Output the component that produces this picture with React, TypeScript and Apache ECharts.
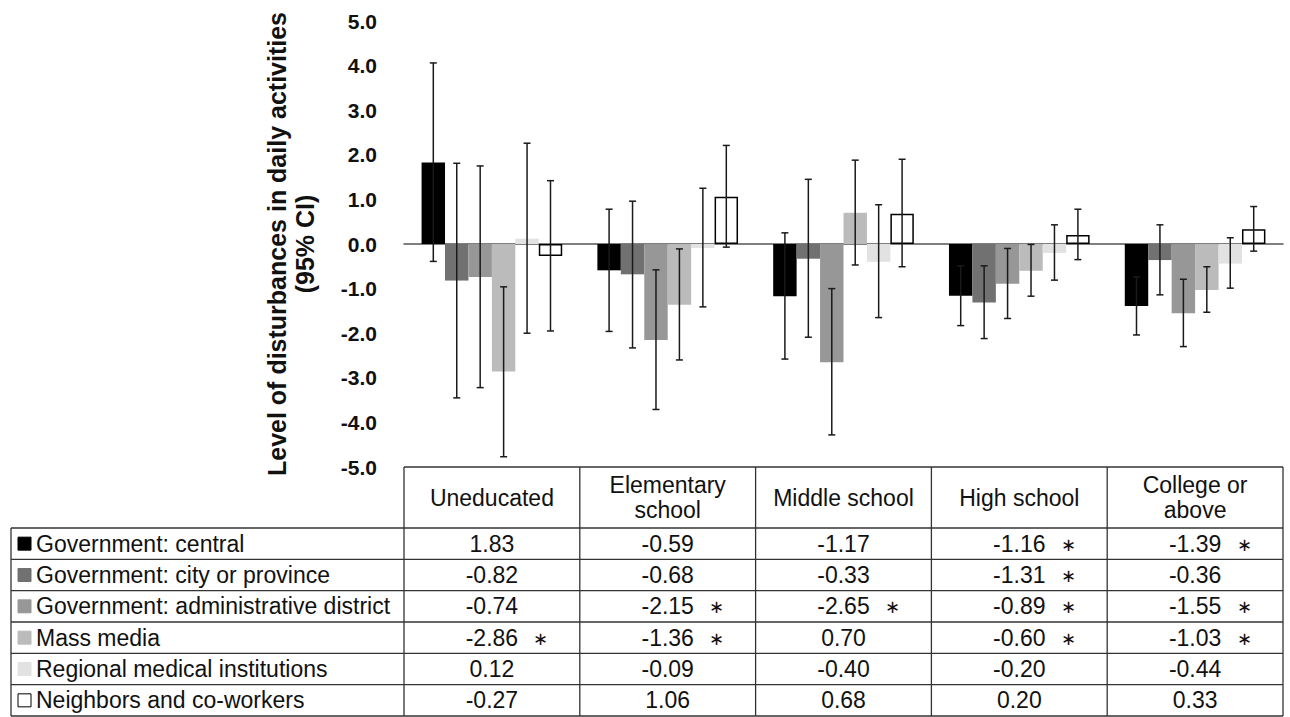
import React, { useEffect, useRef } from "react";
import * as echarts from "echarts";

const categories = ["Uneducated", "Elementary school", "Middle school", "High school", "College or above"];
const headerLabels = ["Uneducated", "Elementary\nschool", "Middle school", "High school", "College or\nabove"];
const yTicks = [-5, -4, -3, -2, -1, 0, 1, 2, 3, 4, 5];

const sources = [
  "Government: central",
  "Government: city or province",
  "Government: administrative district",
  "Mass media",
  "Regional medical institutions",
  "Neighbors and co-workers",
];

const centralMeans = [1.83, -0.59, -1.17, -1.16, -1.39];
const cityMeans = [-0.82, -0.68, -0.33, -1.31, -0.36];
const districtMeans = [-0.74, -2.15, -2.65, -0.89, -1.55];
const mediaMeans = [-2.86, -1.36, 0.7, -0.6, -1.03];
const medicalMeans = [0.12, -0.09, -0.4, -0.2, -0.44];
const neighborMeans = [-0.27, 1.06, 0.68, 0.2, 0.33];

const centralLow = [-0.39, -1.96, -2.58, -1.83, -2.04];
const centralHigh = [4.06, 0.78, 0.25, -0.49, -0.74];
const cityLow = [-3.45, -2.33, -2.09, -2.12, -1.14];
const cityHigh = [1.81, 0.96, 1.45, -0.49, 0.43];
const districtLow = [-3.22, -3.71, -4.28, -1.67, -2.3];
const districtHigh = [1.75, -0.58, -1.0, -0.1, -0.79];
const mediaLow = [-4.77, -2.6, -0.47, -1.17, -1.53];
const mediaHigh = [-0.96, -0.11, 1.88, -0.01, -0.51];
const medicalLow = [-2.0, -1.41, -1.65, -0.81, -0.99];
const medicalHigh = [2.26, 1.25, 0.88, 0.43, 0.14];
const neighborLow = [-1.95, -0.07, -0.51, -0.35, -0.16];
const neighborHigh = [1.42, 2.21, 1.9, 0.78, 0.84];

const centralSig = [false, false, false, true, true];
const citySig = [false, false, false, true, false];
const districtSig = [false, true, true, true, true];
const mediaSig = [true, true, false, true, true];
const medicalSig = [false, false, false, false, false];
const neighborSig = [false, false, false, false, false];

const colors = ["#000000", "#717171", "#979797", "#bbbbbb", "#e2e2e2", "#ffffff"];

const meansList = [centralMeans, cityMeans, districtMeans, mediaMeans, medicalMeans, neighborMeans];
const lowList = [centralLow, cityLow, districtLow, mediaLow, medicalLow, neighborLow];
const highList = [centralHigh, cityHigh, districtHigh, mediaHigh, medicalHigh, neighborHigh];
const sigList = [centralSig, citySig, districtSig, mediaSig, medicalSig, neighborSig];

const W = 1290;
const H = 717;
const GRID_LEFT = 404;
const GRID_RIGHT = 1283;
const GRID_TOP = 21;
const GRID_BOTTOM = 467;
const TABLE_LEFT = 11;
const HEADER_BOTTOM = 528;
const TABLE_BOTTOM = 716;
const FONT = "'Liberation Sans', Arial, Helvetica, sans-serif";
const CAT_GAP = 0.2;
const TABLE_FS = 23;

export default function App() {
  const ref = useRef<HTMLDivElement>(null);

  useEffect(() => {
    if (!ref.current) return;
    const chart = echarts.init(ref.current, null, { renderer: "svg" });

    const nCat = categories.length;
    const nSer = sources.length;
    const colW = (GRID_RIGHT - GRID_LEFT) / nCat;
    const rowH = (TABLE_BOTTOM - HEADER_BOTTOM) / nSer;
    const lineStyle = { stroke: "#333", lineWidth: 1.3 };
    const graphics: any[] = [];
    const line = (x1: number, y1: number, x2: number, y2: number) =>
      graphics.push({ type: "line", shape: { x1, y1, x2, y2 }, style: lineStyle, z: 10 });

    line(GRID_LEFT, GRID_BOTTOM, GRID_RIGHT, GRID_BOTTOM);
    for (let r = 0; r <= nSer; r++) {
      const y = HEADER_BOTTOM + r * rowH;
      line(TABLE_LEFT, y, GRID_RIGHT, y);
    }
    line(TABLE_LEFT, HEADER_BOTTOM, TABLE_LEFT, TABLE_BOTTOM);
    for (let c = 0; c <= nCat; c++) {
      const x = GRID_LEFT + c * colW;
      line(x, GRID_BOTTOM, x, TABLE_BOTTOM);
    }
    headerLabels.forEach((lab, c) => {
      graphics.push({
        type: "text",
        x: GRID_LEFT + (c + 0.5) * colW,
        y: (GRID_BOTTOM + HEADER_BOTTOM) / 2,
        style: {
          text: lab,
          fontSize: TABLE_FS,
          fontFamily: FONT,
          fill: "#111",
          align: "center",
          verticalAlign: "middle",
          lineHeight: 25,
        },
        z: 11,
      });
    });
    sources.forEach((name, r) => {
      const cy = HEADER_BOTTOM + (r + 0.5) * rowH;
      graphics.push({
        type: "rect",
        shape: { x: 18, y: cy - 6.5, width: 13, height: 13 },
        style: { fill: colors[r], stroke: r === nSer - 1 ? "#000" : colors[r], lineWidth: 1 },
        z: 11,
      });
      graphics.push({
        type: "text",
        x: 36,
        y: cy,
        style: { text: name, fontSize: TABLE_FS, fontFamily: FONT, fill: "#111", align: "left", verticalAlign: "middle" },
        z: 11,
      });
      meansList[r].forEach((v, c) => {
        const cx = GRID_LEFT + (c + 0.5) * colW;
        graphics.push({
          type: "text",
          x: cx,
          y: cy,
          style: { text: v.toFixed(2), fontSize: TABLE_FS, fontFamily: FONT, fill: "#111", align: "center", verticalAlign: "middle" },
          z: 11,
        });
        if (sigList[r][c]) {
          graphics.push({
            type: "text",
            x: cx + 49,
            y: cy + 1,
            style: { text: "∗", fontSize: 18, fontFamily: FONT, fill: "#111", align: "center", verticalAlign: "middle" },
            z: 11,
          });
        }
      });
    });
    graphics.push({
      type: "text",
      x: 277,
      y: 244,
      rotation: Math.PI / 2,
      style: {
        text: "Level of disturbances in daily activities",
        fontSize: 25,
        fontWeight: "bold",
        fontFamily: FONT,
        fill: "#111",
        align: "center",
        verticalAlign: "middle",
      },
    });
    graphics.push({
      type: "text",
      x: 305,
      y: 244,
      rotation: Math.PI / 2,
      style: {
        text: "(95% CI)",
        fontSize: 25,
        fontWeight: "bold",
        fontFamily: FONT,
        fill: "#111",
        align: "center",
        verticalAlign: "middle",
      },
    });

    const barSeries = sources.map((name, i) => ({
      name,
      type: "bar",
      data: meansList[i],
      barGap: "0%",
      barCategoryGap: CAT_GAP * 100 + "%",
      itemStyle:
        i === nSer - 1
          ? { color: "#ffffff", borderColor: "#000", borderWidth: 1.5 }
          : { color: colors[i] },
      z: 2,
    }));

    const errData: number[][] = [];
    for (let s = 0; s < nSer; s++) {
      for (let c = 0; c < nCat; c++) {
        errData.push([c, lowList[s][c], highList[s][c], s]);
      }
    }

    const errSeries = {
      type: "custom",
      z: 5,
      encode: { x: 0, y: [1, 2] },
      data: errData,
      renderItem: (params: any, api: any) => {
        const c = api.value(0);
        const lo = api.value(1);
        const hi = api.value(2);
        const s = api.value(3);
        const pLo = api.coord([c, lo]);
        const pHi = api.coord([c, hi]);
        const band = api.size([1, 0])[0];
        const barW = (band * (1 - CAT_GAP)) / nSer;
        const x = pLo[0] - (band * (1 - CAT_GAP)) / 2 + barW * (s + 0.5);
        const hw = 3.5;
        const st = { stroke: "#1a1a1a", lineWidth: 1.5 };
        return {
          type: "group",
          children: [
            { type: "line", shape: { x1: x, y1: pLo[1], x2: x, y2: pHi[1] }, style: st },
            { type: "line", shape: { x1: x - hw, y1: pLo[1], x2: x + hw, y2: pLo[1] }, style: st },
            { type: "line", shape: { x1: x - hw, y1: pHi[1], x2: x + hw, y2: pHi[1] }, style: st },
          ],
        };
      },
    };

    chart.setOption({
      animation: false,
      backgroundColor: "#ffffff",
      grid: { left: GRID_LEFT, right: W - GRID_RIGHT, top: GRID_TOP, bottom: H - GRID_BOTTOM, containLabel: false },
      xAxis: {
        type: "category",
        data: categories,
        axisLine: { onZero: true, lineStyle: { color: "#555", width: 1.5 } },
        axisTick: { show: false },
        axisLabel: { show: false },
        splitLine: { show: false },
      },
      yAxis: {
        type: "value",
        min: yTicks[0],
        max: yTicks[yTicks.length - 1],
        interval: 1,
        axisLine: { show: false },
        axisTick: { show: false },
        splitLine: { show: false },
        axisLabel: {
          margin: 27,
          fontSize: 21,
          fontWeight: "bold",
          fontFamily: FONT,
          color: "#111",
          formatter: (v: number) => v.toFixed(1),
        },
      },
      series: [...barSeries, errSeries],
      graphic: graphics,
    });

    return () => chart.dispose();
  }, []);

  return (
    <div
      ref={ref}
      style={{ position: "fixed", left: 0, top: 0, width: W, height: H, background: "#fff" }}
    />
  );
}
